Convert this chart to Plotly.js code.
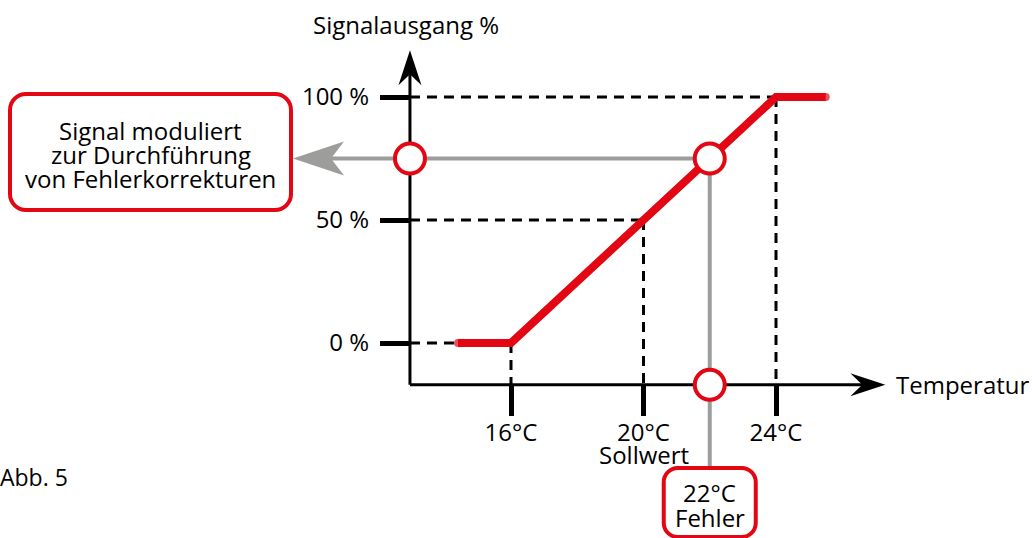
<!DOCTYPE html>
<html>
<head>
<meta charset="utf-8">
<script src="https://cdn.plot.ly/plotly-3.0.1.min.js"></script>
<style>html,body{margin:0;padding:0;background:#fff;}#chart{width:1032px;height:538px;}</style>
</head>
<body>
<div id="chart"></div>
<script>
// ---- data ----
const temperatureTicks = [16, 20, 24];
const temperatureLabels = ['16°C', '20°C', '24°C'];
const signalTicks = [0, 50, 100];
const signalLabels = ['0 %', '50 %', '100 %'];
const curveTemp = [14.4, 16, 24, 25.5];
const curveSignal = [0, 0, 100, 100];
const originTemp = 12.95;
const originSignal = -17;
const axisEndTemp = 27.3;
const axisEndSignal = 119;
const setpointTemp = 20;
const errorTemp = 22;
const correctedSignal = 75;
const boxLines = ['Signal moduliert', 'zur Durchführung', 'von Fehlerkorrekturen'];
const errorLines = ['22°C', 'Fehler'];

// ---- scales (full-page axes) ----
const W = 1032, H = 538;
const xRange = [0.574, 31.728];
const yRange = [-79.27, 139.43];
const dx = p => xRange[0] + p / W * (xRange[1] - xRange[0]);
const dy = p => yRange[1] - p / H * (yRange[1] - yRange[0]);
const px = x => (x - xRange[0]) / (xRange[1] - xRange[0]) * W;
const py = y => (yRange[1] - y) / (yRange[1] - yRange[0]) * H;

const RED = '#e30613';
const GREY = '#9d9d9c';
const FONT = 'Open Sans, sans-serif';
const FS = 24;

function pathFromPx(pts, close) {
  return pts.map((p, i) => (i ? 'L' : 'M') + dx(p[0]) + ',' + dy(p[1])).join(' ') + (close ? ' Z' : '');
}
function roundRectPx(x0, y0, x1, y1, r) {
  const k = 0.55 * r;
  const P = (a, b) => dx(a) + ',' + dy(b);
  return 'M' + P(x0 + r, y0) + ' L' + P(x1 - r, y0) +
    ' C' + P(x1 - r + k, y0) + ' ' + P(x1, y0 + r - k) + ' ' + P(x1, y0 + r) +
    ' L' + P(x1, y1 - r) +
    ' C' + P(x1, y1 - r + k) + ' ' + P(x1 - r + k, y1) + ' ' + P(x1 - r, y1) +
    ' L' + P(x0 + r, y1) +
    ' C' + P(x0 + r - k, y1) + ' ' + P(x0, y1 - r + k) + ' ' + P(x0, y1 - r) +
    ' L' + P(x0, y0 + r) +
    ' C' + P(x0, y0 + r - k) + ' ' + P(x0 + r - k, y0) + ' ' + P(x0 + r, y0) + ' Z';
}

const shapes = [];
const dashLine = {color: '#000', width: 3, dash: '10px,7px'};
// dashed guides
shapes.push({type: 'line', x0: originTemp, x1: 24, y0: 100, y1: 100, line: dashLine, layer: 'below'});
shapes.push({type: 'line', x0: originTemp, x1: setpointTemp, y0: 50, y1: 50, line: dashLine, layer: 'below'});
shapes.push({type: 'line', x0: originTemp, x1: curveTemp[0], y0: 0, y1: 0, line: dashLine, layer: 'below'});
temperatureTicks.forEach((t, i) => {
  shapes.push({type: 'line', x0: t, x1: t, y0: signalTicks[i], y1: originSignal, line: dashLine, layer: 'below'});
});
// grey guide lines
const leftBox = [10, 94, 291, 210];
const errBoxW = 92;
const errBox = [px(errorTemp) - errBoxW / 2, 468, px(errorTemp) + errBoxW / 2, 537];
shapes.push({type: 'line', x0: dx(330), x1: errorTemp, y0: correctedSignal, y1: correctedSignal, line: {color: GREY, width: 4}, layer: 'below'});
shapes.push({type: 'line', x0: errorTemp, x1: errorTemp, y0: correctedSignal, y1: dy(errBox[1]), line: {color: GREY, width: 4}, layer: 'below'});
// grey arrow head
const gy = py(correctedSignal);
shapes.push({type: 'path', path: pathFromPx([[293, gy], [344, gy - 17], [331, gy], [344, gy + 17]], true), fillcolor: GREY, line: {width: 0}, layer: 'below'});
// axes
shapes.push({type: 'line', x0: originTemp, x1: dx(px(axisEndTemp) - 20), y0: originSignal, y1: originSignal, line: {color: '#000', width: 3}, layer: 'below'});
shapes.push({type: 'line', x0: originTemp, x1: originTemp, y0: originSignal, y1: dy(py(axisEndSignal) + 20), line: {color: '#000', width: 3}, layer: 'below'});
const ax = px(axisEndTemp), ay = py(originSignal);
shapes.push({type: 'path', path: pathFromPx([[ax, ay], [ax - 35, ay - 11.5], [ax - 23, ay], [ax - 35, ay + 11.5]], true), fillcolor: '#000', line: {width: 0}});
const bx = px(originTemp), by = py(axisEndSignal);
shapes.push({type: 'path', path: pathFromPx([[bx, by], [bx - 11.5, by + 35], [bx, by + 24], [bx + 11.5, by + 35]], true), fillcolor: '#000', line: {width: 0}});
// boxes
shapes.push({type: 'path', path: roundRectPx(...leftBox, 16), fillcolor: '#fff', line: {color: RED, width: 4}});
shapes.push({type: 'path', path: roundRectPx(...errBox, 14), fillcolor: '#fff', line: {color: RED, width: 4}});

const traces = [
  {x: curveTemp, y: curveSignal, type: 'scatter', mode: 'lines+markers',
   line: {color: RED, width: 8}, marker: {color: RED, size: [8, 0, 0, 8], line: {width: 0}},
   cliponaxis: false, hoverinfo: 'skip'},
  {x: [originTemp, errorTemp, errorTemp], y: [correctedSignal, correctedSignal, originSignal],
   type: 'scatter', mode: 'markers', cliponaxis: false, hoverinfo: 'skip',
   marker: {size: 30, color: '#fff', line: {color: RED, width: 4}}}
];

const ann = (x, y, text, opts) => Object.assign({x, y, text, showarrow: false, xref: 'x', yref: 'y',
  font: {family: FONT, size: FS, color: '#000'}}, opts || {});

const boxCx = dx((leftBox[0] + leftBox[2]) / 2);
const annotations = [
  ann(originTemp, dy(24), 'Signalausgang %', {xshift: -4}),
  ann(dx(894), originSignal, 'Temperatur', {xanchor: 'left'}),
  ann(setpointTemp, dy(454), 'Sollwert'),
  ann(boxCx, dy(130), boxLines[0]),
  ann(boxCx, dy(154), boxLines[1]),
  ann(boxCx, dy(178), boxLines[2]),
  ann(errorTemp, dy(492), errorLines[0]),
  ann(errorTemp, dy(517), errorLines[1]),
  ann(dx(0), dy(477), 'Abb. 5', {xanchor: 'left', xshift: -2, font: {family: FONT, size: 23, color: '#000'}})
];

const layout = {
  width: W, height: H,
  margin: {l: 0, r: 0, t: 0, b: 0},
  paper_bgcolor: '#fff', plot_bgcolor: '#fff',
  showlegend: false,
  xaxis: {range: xRange, domain: [0, 1], anchor: 'free', position: (originSignal - yRange[0]) / (yRange[1] - yRange[0]),
    showgrid: false, zeroline: false, showline: false, automargin: false,
    tickmode: 'array', tickvals: temperatureTicks, ticktext: temperatureLabels,
    ticks: 'outside', ticklen: 30, tickwidth: 5, tickcolor: '#000', ticklabelstandoff: -4,
    tickfont: {family: FONT, size: FS, color: '#000'}, fixedrange: true},
  yaxis: {range: yRange, domain: [0, 1], anchor: 'free', position: (originTemp - xRange[0]) / (xRange[1] - xRange[0]),
    showgrid: false, zeroline: false, showline: false, automargin: false,
    tickmode: 'array', tickvals: signalTicks, ticktext: signalLabels,
    ticks: 'outside', ticklen: 30, tickwidth: 5, tickcolor: '#000', ticklabelstandoff: 6,
    tickfont: {family: FONT, size: FS, color: '#000'}, fixedrange: true},
  shapes, annotations
};

Plotly.newPlot('chart', traces, layout, {displayModeBar: false, staticPlot: true});
</script>
</body>
</html>
